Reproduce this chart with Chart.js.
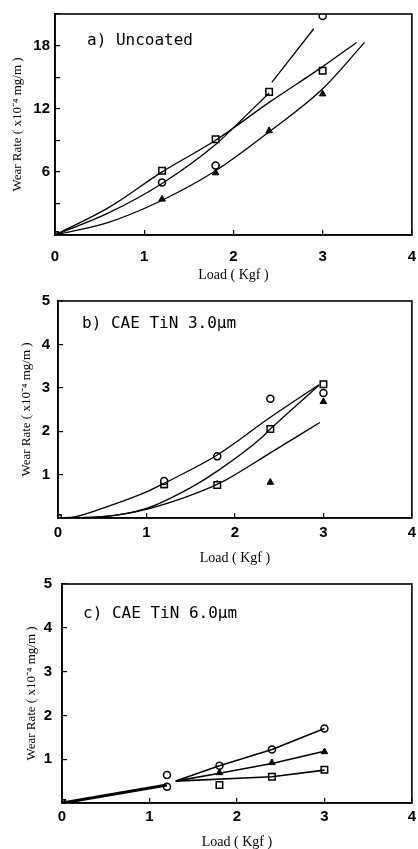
<!DOCTYPE html>
<html><head><meta charset="utf-8">
<script src="https://cdn.jsdelivr.net/npm/chart.js@4.4.1/dist/chart.umd.min.js"></script>
<style>
html,body{margin:0;padding:0;background:#fff;}
#wrap{position:relative;width:418px;height:849px;overflow:hidden;background:#fff;}
canvas{position:absolute;left:0;}
.lbl{position:absolute;font-family:'DejaVu Sans Mono',monospace;font-size:16px;line-height:19px;color:#000;white-space:nowrap;}
</style></head><body>
<div id="wrap">
<canvas id="ca" width="418" height="290" style="top:0px"></canvas>
<canvas id="cb" width="418" height="280" style="top:290px"></canvas>
<canvas id="cc" width="418" height="279" style="top:570px"></canvas>
<div class="lbl" style="left:87px;top:30px">a) Uncoated</div>
<div class="lbl" style="left:82px;top:313px">b) CAE TiN 3.0μm</div>
<div class="lbl" style="left:83px;top:603px">c) CAE TiN 6.0μm</div>
</div>
<script>
// ---- shared ----
const loadTicks = [0, 1, 2, 3, 4];
const loads = [0, 1.2, 1.8, 2.4, 3.0];
const xTitle = 'Load ( Kgf )';
const yTitle = 'Wear Rate ( x10⁻⁴ mg/m )';

// ---- a) Uncoated ----
const aYTickLabels = [6, 12, 18];
const aCircle   = [0, 5.0, 6.6, null, 20.8];
const aSquare   = [0, 6.1, 9.1, 13.6, 15.6];
const aTriangle = [0, 3.4, 5.9, 9.9, 13.4];
const aFitCircleX   = [0, 0.6, 1.2, 1.8, 2.05, 2.4, 2.41, 2.43, 2.9];
const aFitCircleY   = [0, 2.1, 4.9, 8.6, 10.6, 13.5, null, 14.5, 19.6];
const aFitSquareX   = [0, 0.6, 1.2, 1.8, 2.4, 3.0, 3.38];
const aFitSquareY   = [0, 2.6, 6.0, 9.0, 12.6, 16.0, 18.3];
const aFitTriangleX = [0, 0.6, 1.2, 1.8, 2.4, 3.0, 3.47];
const aFitTriangleY = [0, 1.2, 3.3, 6.1, 9.8, 13.9, 18.3];

// ---- b) CAE TiN 3.0um ----
const bYTickLabels = [1, 2, 3, 4, 5];
const bCircle   = [0, 0.85, 1.42, 2.75, 2.88];
const bSquare   = [0, 0.78, 0.76, 2.05, 3.08];
const bTriangle = [0, 0.74, 0.78, 0.82, 2.68];
const bFitUpperX  = [0, 0.2, 0.5, 1.0, 1.2, 1.8, 2.4, 2.95];
const bFitUpperY  = [0, 0.03, 0.22, 0.6, 0.8, 1.45, 2.32, 3.07];
const bFitMiddleX = [0, 0.5, 1.0, 1.5, 1.8, 2.3, 2.4, 2.95];
const bFitMiddleY = [0, 0.03, 0.22, 0.7, 1.08, 1.85, 2.05, 3.06];
const bFitLowerX  = [0, 0.5, 1.0, 1.6, 1.9, 2.4, 2.96];
const bFitLowerY  = [0, 0.03, 0.2, 0.6, 0.88, 1.5, 2.2];

// ---- c) CAE TiN 6.0um ----
const cYTickLabels = [1, 2, 3, 4, 5];
const cCircle   = [0, 0.64, 0.85, 1.22, 1.70];
const cCircleLow = [null, 0.37, null, null, null];
const cSquare   = [0, null, 0.41, 0.60, 0.76];
const cTriangle = [0, null, 0.69, 0.92, 1.17];
const cTrunkX = [0, 1.2];
const cTrunkY = [0, 0.41];
const cFitCircleX = [1.3, 1.8, 2.4, 3.0];
const cFitCircleY = [0.50, 0.85, 1.22, 1.70];
const cFitTriangleX = [1.3, 1.8, 2.4, 3.0];
const cFitTriangleY = [0.50, 0.68, 0.90, 1.18];
const cFitSquareX = [1.3, 2.4, 3.0];
const cFitSquareY = [0.50, 0.60, 0.75];

// ---- helpers ----
function pts(xs, ys) { return xs.map((x, i) => ({x: x, y: ys[i]})); }
function markerSet(ys, style) {
  const base = {data: pts(loads, ys), showLine: false, borderColor: '#000', borderWidth: 1.5};
  if (style === 'circle') return Object.assign(base, {pointStyle: 'circle', pointRadius: 3.5, backgroundColor: '#fff', pointBackgroundColor: '#fff'});
  if (style === 'rect') return Object.assign(base, {pointStyle: 'rect', pointRadius: 4.6, backgroundColor: '#fff', pointBackgroundColor: '#fff'});
  return Object.assign(base, {pointStyle: 'triangle', pointRadius: 3.8, backgroundColor: '#000', pointBackgroundColor: '#000', borderWidth: 1});
}
function curveSet(xs, ys, opts) {
  return Object.assign({data: pts(xs, ys), showLine: true, pointRadius: 0, borderColor: '#000', borderWidth: 1.3,
    cubicInterpolationMode: 'monotone', spanGaps: false, fill: false}, opts || {});
}
function lineSet(xs, ys, w) {
  return {data: pts(xs, ys), showLine: true, pointRadius: 0, borderColor: '#000', borderWidth: w, tension: 0, fill: false};
}

const framePlugin = {
  id: 'frame',
  afterDraw(chart) {
    const a = chart.chartArea, ctx = chart.ctx;
    ctx.save();
    ctx.strokeStyle = '#000';
    ctx.lineWidth = 1.6;
    ctx.strokeRect(a.left, a.top, a.right - a.left, a.bottom - a.top);
    ctx.restore();
  }
};

function makeChart(id, c) {
  return new Chart(document.getElementById(id), {
    type: 'scatter',
    data: {datasets: c.datasets},
    options: {
      responsive: false, animation: false, devicePixelRatio: 1,
      layout: {padding: {top: c.padTop, right: c.padRight, left: 0, bottom: 0}},
      plugins: {legend: {display: false}, tooltip: {enabled: false}},
      scales: {
        x: {
          type: 'linear', min: 0, max: 4,
          afterBuildTicks(s) { s.ticks = loadTicks.map(v => ({value: v})); },
          afterFit(s) { s.height = c.xH; s.paddingLeft = 0; s.paddingRight = 0; },
          ticks: {padding: c.xTickPad, color: '#000', maxRotation: 0, autoSkip: false,
                  font: {family: 'Liberation Sans', size: 15, weight: 'bold'}},
          grid: {drawOnChartArea: false, tickLength: -5, color: '#000', lineWidth: 1.2},
          border: {color: '#000', width: 1.6},
          title: {display: true, text: xTitle, color: '#000',
                  font: {family: 'Liberation Serif', size: 14}, padding: {top: 0, bottom: c.xTitlePad}}
        },
        y: {
          type: 'linear', min: 0, max: c.yMax,
          afterBuildTicks(s) { const t = []; for (let v = 0; v <= c.yMax + 1e-9; v += c.yStep) t.push({value: v}); s.ticks = t; },
          afterFit(s) { s.width = c.yW; s.paddingTop = 0; s.paddingBottom = 0; },
          ticks: {padding: c.yTickPad, color: '#000', autoSkip: false,
                  callback: (v) => c.yLabels.includes(v) ? String(v) : '',
                  font: {family: 'Liberation Sans', size: 15, weight: 'bold'}},
          grid: {drawOnChartArea: false, tickLength: -5, color: '#000', lineWidth: 1.2},
          border: {color: '#000', width: 1.6},
          title: {display: true, text: yTitle, color: '#000',
                  font: {family: 'Liberation Serif', size: 13}, padding: {top: c.yTitlePad, bottom: 0}}
        }
      }
    },
    plugins: [framePlugin]
  });
}

makeChart('ca', {
  padTop: 14, padRight: 6, xH: 55, yW: 55, xTickPad: 18, yTickPad: 10, xTitlePad: 6.5, yTitlePad: 10,
  yMax: 21, yStep: 3, yLabels: aYTickLabels,
  datasets: [
    curveSet(aFitCircleX, aFitCircleY), curveSet(aFitSquareX, aFitSquareY), curveSet(aFitTriangleX, aFitTriangleY),
    markerSet(aCircle, 'circle'), markerSet(aSquare, 'rect'), markerSet(aTriangle, 'triangle')
  ]
});
makeChart('cb', {
  padTop: 11, padRight: 2, xH: 52, yW: 58, xTickPad: 11, yTickPad: 13, xTitlePad: 3.5, yTitlePad: 19,
  yMax: 5, yStep: 1, yLabels: bYTickLabels,
  datasets: [
    curveSet(bFitUpperX, bFitUpperY), curveSet(bFitMiddleX, bFitMiddleY), curveSet(bFitLowerX, bFitLowerY),
    markerSet(bCircle, 'circle'), markerSet(bSquare, 'rect'), markerSet(bTriangle, 'triangle')
  ]
});
makeChart('cc', {
  padTop: 14, padRight: 1, xH: 46, yW: 62, xTickPad: 10, yTickPad: 15, xTitlePad: -2, yTitlePad: 24,
  yMax: 5, yStep: 1, yLabels: cYTickLabels,
  datasets: [
    lineSet(cTrunkX, cTrunkY, 3), lineSet(cFitCircleX, cFitCircleY, 1.6),
    lineSet(cFitTriangleX, cFitTriangleY, 1.6), lineSet(cFitSquareX, cFitSquareY, 1.6),
    markerSet(cCircle, 'circle'), markerSet(cCircleLow, 'circle'), markerSet(cSquare, 'rect'), markerSet(cTriangle, 'triangle')
  ]
});
</script>
</body></html>
